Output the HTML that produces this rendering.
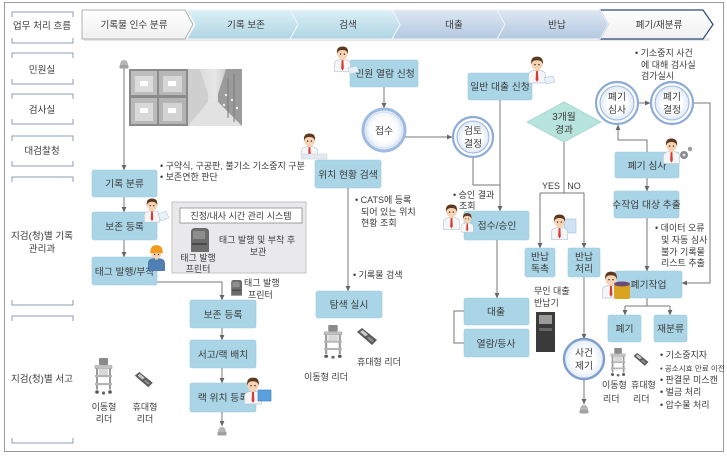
<!DOCTYPE html>
<html><head><meta charset="utf-8">
<style>
html,body{margin:0;padding:0;background:#fff;}
svg{display:block;}
text{font-family:"Liberation Sans","Noto Sans CJK KR",sans-serif;fill:#3c3c3c;font-size:9.6px;}
.c{text-anchor:middle;}
.b{font-size:9.8px;}
.s{font-size:9px;}
.xs{font-size:7.6px;}
</style></head><body>
<svg width="727" height="460" viewBox="0 0 727 460" xmlns="http://www.w3.org/2000/svg">
<defs>
<linearGradient id="gc" x1="0" y1="0" x2="0" y2="1"><stop offset="0" stop-color="#dcf0f6"/><stop offset="1" stop-color="#aed5e3"/></linearGradient>
<linearGradient id="gb" x1="0" y1="0" x2="0" y2="1"><stop offset="0" stop-color="#dde7f3"/><stop offset="1" stop-color="#b3c8e0"/></linearGradient>
<linearGradient id="gw" x1="0" y1="0" x2="0" y2="1"><stop offset="0" stop-color="#ffffff"/><stop offset="1" stop-color="#f0f0f0"/></linearGradient>
<linearGradient id="cor" x1="0" y1="0" x2="1" y2="0"><stop offset="0" stop-color="#d4d4d4"/><stop offset="0.5" stop-color="#e6e6e6"/><stop offset="1" stop-color="#a8a8a8"/></linearGradient>
<radialGradient id="cg"><stop offset="0.55" stop-color="#ffffff"/><stop offset="1" stop-color="#dfe9f5"/></radialGradient>
<marker id="ar" markerWidth="6" markerHeight="6" refX="5" refY="3" orient="auto" markerUnits="userSpaceOnUse"><path d="M0,0.6 L5.5,3 L0,5.4 z" fill="#666"/></marker>
<g id="pp">
 <path d="M1.5,28 L1.5,20.5 Q1.5,16 7,15.5 L13,15.5 Q18.5,16 18.5,20.5 L18.5,28 Z" fill="#f5f5f5" stroke="#b9c9da" stroke-width="0.7"/>
 <rect x="8.5" y="13" width="3" height="3.5" fill="#efc6a4"/>
 <path d="M9.1,16 L10.9,16 L11.4,24.5 L10,27 L8.6,24.5 Z" fill="#d63a32"/>
 <ellipse cx="10" cy="9" rx="5.6" ry="6.2" fill="#f7d3b3"/>
 <path d="M4.2,9.5 Q3.2,1.6 10,1.6 Q16.8,1.6 15.8,9.5 Q15,5.2 10,5.3 Q5,5.2 4.2,9.5 Z" fill="#5b3a1f"/>
 <circle cx="8" cy="9.6" r="0.75" fill="#333"/><circle cx="12" cy="9.6" r="0.75" fill="#333"/>
</g>
<g id="pw">
 <path d="M1.5,28 L1.5,20.5 Q1.5,16 7,15.5 L13,15.5 Q18.5,16 18.5,20.5 L18.5,28 Z" fill="#4f7fb5" stroke="#3d6a9c" stroke-width="0.7"/>
 <rect x="8.5" y="13" width="3" height="3.5" fill="#efc6a4"/>
 <ellipse cx="10" cy="9.5" rx="5.6" ry="6" fill="#f7d3b3"/>
 <path d="M3.5,9 Q3.5,1.2 10,1.2 Q16.5,1.2 16.5,9 L17.5,9.5 L2.5,9.5 Z" fill="#f29a1e"/>
 <circle cx="8" cy="11" r="0.75" fill="#333"/><circle cx="12" cy="11" r="0.75" fill="#333"/>
</g>
<g id="cart">
 <rect x="5" y="0" width="9" height="7" rx="1" fill="#8a8a8a"/>
 <rect x="1" y="7.5" width="17" height="3" fill="#c2c2c2" stroke="#999" stroke-width="0.5"/>
 <rect x="2" y="10.5" width="2" height="21" fill="#9a9a9a"/>
 <rect x="15" y="10.5" width="2" height="21" fill="#9a9a9a"/>
 <rect x="1" y="17" width="17" height="2.2" fill="#b5b5b5"/>
 <rect x="1" y="25" width="17" height="2.2" fill="#b5b5b5"/>
 <rect x="5" y="11" width="9" height="6" fill="#d8d8d8"/>
 <circle cx="3" cy="34" r="1.8" fill="#555"/><circle cx="16" cy="34" r="1.8" fill="#555"/><circle cx="9.5" cy="35" r="1.6" fill="#666"/>
</g>
<g id="hand">
 <path d="M2,4 L7,0 L22,12 L17,17 Z" fill="#5a5a5a"/>
 <path d="M5,4 L7.5,2 L13,6.5 L10.5,8.5 Z" fill="#c9c9c9"/>
 <path d="M12,10 L14,8.5 L19,12.5 L17,14.3 Z" fill="#8c8c8c"/>
</g>
<g id="prt">
 <path d="M2,4 Q2,0 6,0 L16,0 Q20,0 20,4 L20,24 L2,24 Z" fill="#6c6c6c"/>
 <rect x="4" y="3" width="12" height="8" fill="#8e8e8e"/>
 <rect x="3" y="15" width="15" height="2" fill="#4a4a4a"/>
</g>
<g id="lock">
 <path d="M-4,2 Q-4,-4 0,-4 Q4,-4 4,2 Z" fill="#b5b5b5"/>
 <rect x="-4.5" y="1" width="9" height="3.5" rx="1" fill="#a0a0a0"/>
</g>
</defs>

<rect x="4.5" y="2.5" width="719" height="449" fill="#fff" stroke="#9a9a9a" stroke-width="1"/>

<!-- header -->
<rect x="84" y="38" width="626" height="3" fill="#e6e6e6"/>
<polygon points="600,10 703,10 713,24.5 703,39 600,39 608,24.5" fill="url(#gw)" stroke="#2d4a7c" stroke-width="1.2"/>
<polygon points="497,10 600,10 608,24.5 600,39 497,39 505,24.5" fill="url(#gb)" stroke="#eef3f9" stroke-width="1"/>
<polygon points="392,10 497,10 505,24.5 497,39 392,39 400,24.5" fill="url(#gb)" stroke="#eef3f9" stroke-width="1"/>
<polygon points="290,10 392,10 400,24.5 392,39 290,39 298,24.5" fill="url(#gc)" stroke="#eef7fa" stroke-width="1"/>
<polygon points="187,10 290,10 298,24.5 290,39 187,39 195,24.5" fill="url(#gc)" stroke="#eef7fa" stroke-width="1"/>
<polygon points="82,10 185,10 193,24.5 185,39 82,39" fill="url(#gw)" stroke="#b0b0b0" stroke-width="1"/>
<text class="c" x="134" y="28">기록물 인수 분류</text>
<text class="c" x="246" y="28">기록 보존</text>
<text class="c" x="348" y="28">검색</text>
<text class="c" x="454" y="28">대출</text>
<text class="c" x="557" y="28">반납</text>
<text class="c" x="659" y="28">폐기/재분류</text>

<!-- left column brackets -->
<path fill="none" stroke="#8e9cb2" stroke-width="1" d="
M12,17 V12 H73 V17 M12,38 V43 H73 V38
M12,58 V53 H73 V58 M12,79 V84 H73 V79
M12,99 V94 H73 V99 M12,119 V124 H73 V119
M12,141 V136 H73 V141 M12,161 V166 H73 V161
M12,182 V177 H73 V182 M12,300 V305 H73 V300
M12,321 V316 H73 V321 M12,438 V443 H73 V438"/>
<text class="c" x="42" y="29">업무 처리 흐름</text>
<text class="c" x="42" y="73">민원실</text>
<text class="c" x="42" y="113">검사실</text>
<text class="c" x="42" y="154">대검찰청</text>
<text class="c" x="42" y="239">지검(청)별 기록</text>
<text class="c" x="42" y="252">관리과</text>
<text class="c" x="42" y="382">지검(청)별 서고</text>

<!-- photos -->
<rect x="129" y="69" width="59" height="57" fill="#8a8a8a"/>
<rect x="131" y="71" width="26" height="24" fill="#bdbdbd"/>
<rect x="159" y="71" width="27" height="24" fill="#b7b7b7"/>
<rect x="131" y="98" width="26" height="26" fill="#b9b9b9"/>
<rect x="159" y="98" width="27" height="26" fill="#b4b4b4"/>
<rect x="135" y="76" width="18" height="16" fill="#dcdcdc"/><rect x="140" y="81" width="8" height="5" fill="#fff"/>
<rect x="163" y="76" width="19" height="16" fill="#d6d6d6"/><rect x="168" y="81" width="8" height="5" fill="#fff"/>
<rect x="135" y="103" width="18" height="18" fill="#d9d9d9"/><rect x="140" y="108" width="8" height="5" fill="#fff"/>
<rect x="163" y="103" width="19" height="18" fill="#d3d3d3"/><rect x="168" y="108" width="8" height="5" fill="#fff"/>
<rect x="188" y="69" width="54" height="57" fill="url(#cor)"/>
<polygon points="188,69 200,69 208,94 208,102 188,126" fill="#cfcfcf"/>
<polygon points="242,69 226,69 218,94 218,102 242,126" fill="#9b9b9b"/>
<polygon points="188,126 208,102 218,102 242,126" fill="#e2e2e2"/>
<path d="M228,78 V118 M234,74 V122" stroke="#7a7a7a" stroke-width="1"/>
<circle cx="226" cy="95" r="1.2" fill="#eee"/><circle cx="232" cy="100" r="1.2" fill="#eee"/><circle cx="237" cy="108" r="1.2" fill="#eee"/><circle cx="224" cy="105" r="1.2" fill="#eee"/>

<!-- system panel -->
<rect x="172" y="202" width="134" height="71" fill="#e9e9eb" stroke="#c4c4c4" stroke-width="1"/>
<rect x="180" y="208" width="122" height="15" fill="#fff" stroke="#8a8a8a" stroke-width="0.8"/>
<text class="c s" x="241" y="219">진정/내사 시간 관리 시스템</text>
<use href="#prt" transform="translate(189,228)"/>
<text class="c s" x="257" y="243">태그 발행 및 부착 후</text>
<text class="c s" x="258" y="255">보관</text>
<text class="c s" x="198" y="261">태그 발행</text>
<text class="c s" x="198" y="272">프린터</text>

<!-- connectors -->
<g stroke="#777" stroke-width="1" fill="none">
<path d="M124,68 V170" marker-end="url(#ar)"/>
<path d="M124,197 V212" marker-end="url(#ar)"/>
<path d="M124,240 V257" marker-end="url(#ar)"/>
<path d="M157,282 H222 V300" marker-end="url(#ar)"/>
<path d="M222,328 V340" marker-end="url(#ar)"/>
<path d="M222,368 V383" marker-end="url(#ar)"/>
<path d="M222,412 V426" marker-end="url(#ar)"/>
<path d="M384,87 V108" marker-end="url(#ar)"/>
<path d="M405,137 H452" marker-end="url(#ar)"/>
<path d="M473,157 V185 H500"/>
<path d="M500,100 V211" marker-end="url(#ar)"/>
<path d="M497,240 V298" marker-end="url(#ar)"/>
<path d="M348,188 V291" marker-end="url(#ar)"/>
<path d="M464,311 H454 V343 H464"/>
<path d="M564,142 V193 M540,193 H584"/>
<path d="M540,193 V248" marker-end="url(#ar)"/>
<path d="M584,193 V248" marker-end="url(#ar)"/>
<path d="M584,277 V339" marker-end="url(#ar)"/>
<path d="M584,379 V404" marker-end="url(#ar)"/>
<path d="M639,103 H650" marker-end="url(#ar)"/>
<path d="M647,152 V140 H618 V125" marker-end="url(#ar)"/>
<path d="M647,178 V191" marker-end="url(#ar)"/>
<path d="M647,218 V271" marker-end="url(#ar)"/>
<path d="M694,103 H710 V283 H682" marker-end="url(#ar)"/>
<path d="M647,298 V306 M625,306 H670"/>
<path d="M625,306 V315" marker-end="url(#ar)"/>
<path d="M670,306 V315" marker-end="url(#ar)"/>
</g>

<!-- start/end icons -->
<use href="#lock" transform="translate(124,64)"/>
<use href="#lock" transform="translate(222,431)"/>
<use href="#lock" transform="translate(584,409)"/>

<!-- boxes -->
<g fill="#a9d5e6" stroke="#9ccadc" stroke-width="0.6">
<rect x="92" y="170" width="65" height="27" rx="2"/>
<rect x="92" y="212" width="65" height="28" rx="2"/>
<rect x="92" y="257" width="65" height="28" rx="2"/>
<rect x="190" y="300" width="66" height="28" rx="2"/>
<rect x="190" y="340" width="66" height="28" rx="2"/>
<rect x="190" y="383" width="66" height="29" rx="2"/>
<rect x="350" y="60" width="68" height="27" rx="2"/>
<rect x="315" y="160" width="66" height="28" rx="2"/>
<rect x="316" y="291" width="66" height="27" rx="2"/>
<rect x="468" y="73" width="64" height="27" rx="2"/>
<rect x="464" y="211" width="65" height="29" rx="2"/>
<rect x="464" y="298" width="65" height="27" rx="2"/>
<rect x="464" y="329" width="65" height="28" rx="2"/>
<rect x="525" y="248" width="30" height="29" rx="2"/>
<rect x="568" y="248" width="32" height="29" rx="2"/>
<rect x="615" y="152" width="64" height="26" rx="2"/>
<rect x="614" y="191" width="65" height="27" rx="2"/>
<rect x="615" y="271" width="67" height="27" rx="2"/>
<rect x="608" y="315" width="33" height="27" rx="2"/>
<rect x="654" y="315" width="33" height="27" rx="2"/>
</g>
<text class="c b" x="124.5" y="187">기록 분류</text>
<text class="c b" x="124.5" y="230">보존 등록</text>
<text class="c b" x="124.5" y="275">태그 발행/부착</text>
<text class="c b" x="223" y="318">보존 등록</text>
<text class="c b" x="223" y="358">서고/랙 배치</text>
<text class="c b" x="223" y="401">랙 위치 등록</text>
<text class="c b" x="385" y="77">민원 열람 신청</text>
<text class="c b" x="348" y="178">위치 현황 검색</text>
<text class="c b" x="349" y="308">탐색 실시</text>
<text class="c b" x="500" y="90">일반 대출 신청</text>
<text class="c b" x="497" y="229">접수/승인</text>
<text class="c b" x="496" y="315">대출</text>
<text class="c b" x="496" y="347">열람/등사</text>
<text class="c b" x="540" y="260">반납</text>
<text class="c b" x="540" y="272">독촉</text>
<text class="c b" x="584" y="260">반납</text>
<text class="c b" x="584" y="272">처리</text>
<text class="c b" x="647" y="169">폐기 심사</text>
<text class="c b" x="646.5" y="208">수작업 대상 추출</text>
<text class="c b" x="648.5" y="288">폐기작업</text>
<text class="c b" x="624.5" y="332">폐기</text>
<text class="c b" x="670.5" y="332">재분류</text>

<!-- diamond -->
<polygon points="564,102 601,122 564,142 527,122" fill="#b7e4dc" stroke="#a2d6cd" stroke-width="0.8"/>
<text class="c b" x="564" y="120">3개월</text>
<text class="c b" x="564" y="133">경과</text>

<!-- circles -->
<circle cx="384" cy="130" r="21" fill="url(#cg)" stroke="#9fbbe0" stroke-width="3"/>
<circle cx="384" cy="130" r="18" fill="none" stroke="#d3e0f0" stroke-width="1"/>
<text class="c b" x="384" y="134">접수</text>

<circle cx="473" cy="137" r="20" fill="#fff" stroke="#8cabd7" stroke-width="2.2"/>
<circle cx="473" cy="137" r="16" fill="url(#cg)" stroke="#9db8df" stroke-width="1.1"/>
<text class="c b" x="473" y="134">검토</text>
<text class="c b" x="473" y="147">결정</text>

<circle cx="617" cy="103" r="21" fill="#fff" stroke="#8cabd7" stroke-width="2.2"/>
<circle cx="617" cy="103" r="17" fill="url(#cg)" stroke="#9db8df" stroke-width="1.1"/>
<text class="c b" x="617" y="100">폐기</text>
<text class="c b" x="617" y="113">심사</text>

<circle cx="672" cy="103" r="21" fill="#fff" stroke="#8cabd7" stroke-width="2.2"/>
<circle cx="672" cy="103" r="17" fill="url(#cg)" stroke="#9db8df" stroke-width="1.1"/>
<text class="c b" x="672" y="100">폐기</text>
<text class="c b" x="672" y="113">결정</text>

<circle cx="584" cy="359" r="20" fill="url(#cg)" stroke="#7f9fcf" stroke-width="2.4"/>
<text class="c b" x="584" y="356">사건</text>
<text class="c b" x="584" y="369">제기</text>

<!-- people -->
<use href="#pp" transform="translate(143,197) scale(0.9)"/>
<path d="M158,214 l8,-3 l3,7 l-8,3 z" fill="#e8f0f8" stroke="#a8c0d8" stroke-width="0.5"/>
<use href="#pw" transform="translate(147,244) scale(0.95)"/>
<use href="#pp" transform="translate(243,376)"/>
<rect x="258" y="390" width="13" height="11" fill="#5aa0dc" stroke="#3c7fbd" stroke-width="0.6"/>
<use href="#pp" transform="translate(333,45) scale(0.95)"/>
<path d="M348,68 l9,-2 l2,6 l-9,2 z" fill="#e8f0f8" stroke="#a8c0d8" stroke-width="0.5"/>
<use href="#pp" transform="translate(300,132) scale(0.95)"/>
<rect x="301" y="154" width="26" height="5" fill="#e3e8ee" stroke="#c8d0da" stroke-width="0.5"/>
<use href="#pp" transform="translate(442,203) scale(0.95)"/>
<use href="#pp" transform="translate(460,212) scale(0.72)"/>
<use href="#pp" transform="translate(527,55)"/>
<path d="M544,78 l9,-2 l2,6 l-9,2 z" fill="#e8f0f8" stroke="#a8c0d8" stroke-width="0.5"/>
<rect x="564" y="219" width="12" height="14" fill="#cfe3f5" stroke="#9fbfe0" stroke-width="0.6"/>
<use href="#pp" transform="translate(550,213) scale(0.95)"/>
<use href="#pp" transform="translate(662,137) scale(0.95)"/>
<circle cx="684" cy="155" r="4" fill="#8a8a8a"/><circle cx="684" cy="155" r="1.5" fill="#ddd"/><circle cx="690" cy="149" r="2.2" fill="#999"/>
<use href="#pp" transform="translate(601,270)"/>
<rect x="614" y="284" width="16" height="15" rx="2" fill="#d9a520"/>
<ellipse cx="622" cy="284" rx="8" ry="2.5" fill="#6b4a7a"/>

<!-- devices -->
<use href="#cart" transform="translate(94,358)"/>
<use href="#hand" transform="translate(133,372) scale(0.9)"/>
<use href="#cart" transform="translate(323,325) scale(1.05,0.92)"/>
<use href="#hand" transform="translate(355,328)"/>
<use href="#cart" transform="translate(610,348) scale(0.85,0.78)"/>
<use href="#hand" transform="translate(632,353) scale(0.75)"/>
<use href="#prt" transform="translate(230,280) scale(0.6,0.65)"/>
<rect x="536" y="312" width="19" height="40" fill="#3a3a3a"/>
<rect x="539" y="315" width="13" height="9" fill="#9a9a9a"/>
<rect x="539" y="328" width="13" height="3" fill="#666"/>

<!-- bullet / annotation texts -->
<text class="s" x="160" y="169">• 구약식, 구공판, 불기소 기소중지 구분</text>
<text class="s" x="160" y="180">• 보존연한 판단</text>
<text class="s" x="244" y="286">태그 발행</text>
<text class="s" x="248" y="298">프린터</text>
<text class="s" x="355" y="203">• CATS에 등록</text>
<text class="s" x="361" y="215">되어 있는 위치</text>
<text class="s" x="361" y="226">현황 조회</text>
<text class="s" x="353" y="278">• 기록물 검색</text>
<text class="c s" x="326" y="380">이동형 리더</text>
<text class="s" x="357" y="365">휴대형 리더</text>
<text class="c s" x="104" y="410">이동형</text>
<text class="c s" x="104" y="422">리더</text>
<text class="c s" x="145" y="410">휴대형</text>
<text class="c s" x="145" y="422">리더</text>
<text class="s" x="453" y="198">• 승인 결과</text>
<text class="s" x="459" y="209">조회</text>
<text class="s" x="534" y="294">무인 대출</text>
<text class="s" x="534" y="306">반납기</text>
<text class="c s" x="551" y="189">YES</text>
<text class="c s" x="574" y="189">NO</text>
<text class="s" x="635" y="56">• 기소중지 사건</text>
<text class="s" x="641" y="68">에 대해 검사실</text>
<text class="s" x="641" y="79">검가실시</text>
<text class="s" x="655" y="231">• 데이터 오류</text>
<text class="s" x="661" y="243">및 자동 심사</text>
<text class="s" x="661" y="255">불가 기록물</text>
<text class="s" x="661" y="266">리스트 추출</text>
<text class="s" x="602" y="388">이동형</text>
<text class="s" x="631" y="388">휴대형</text>
<text class="s" x="603" y="402">리더</text>
<text class="s" x="633" y="402">리더</text>
<text class="s" x="660" y="358">• 기소중지자</text>
<text class="xs" x="660" y="371">• 공소시효 만료 이전</text>
<text class="s" x="660" y="383">• 판결문 미스캔</text>
<text class="s" x="660" y="395">• 벌금 처리</text>
<text class="s" x="660" y="408">• 압수물 처리</text>
</svg>
</body></html>
